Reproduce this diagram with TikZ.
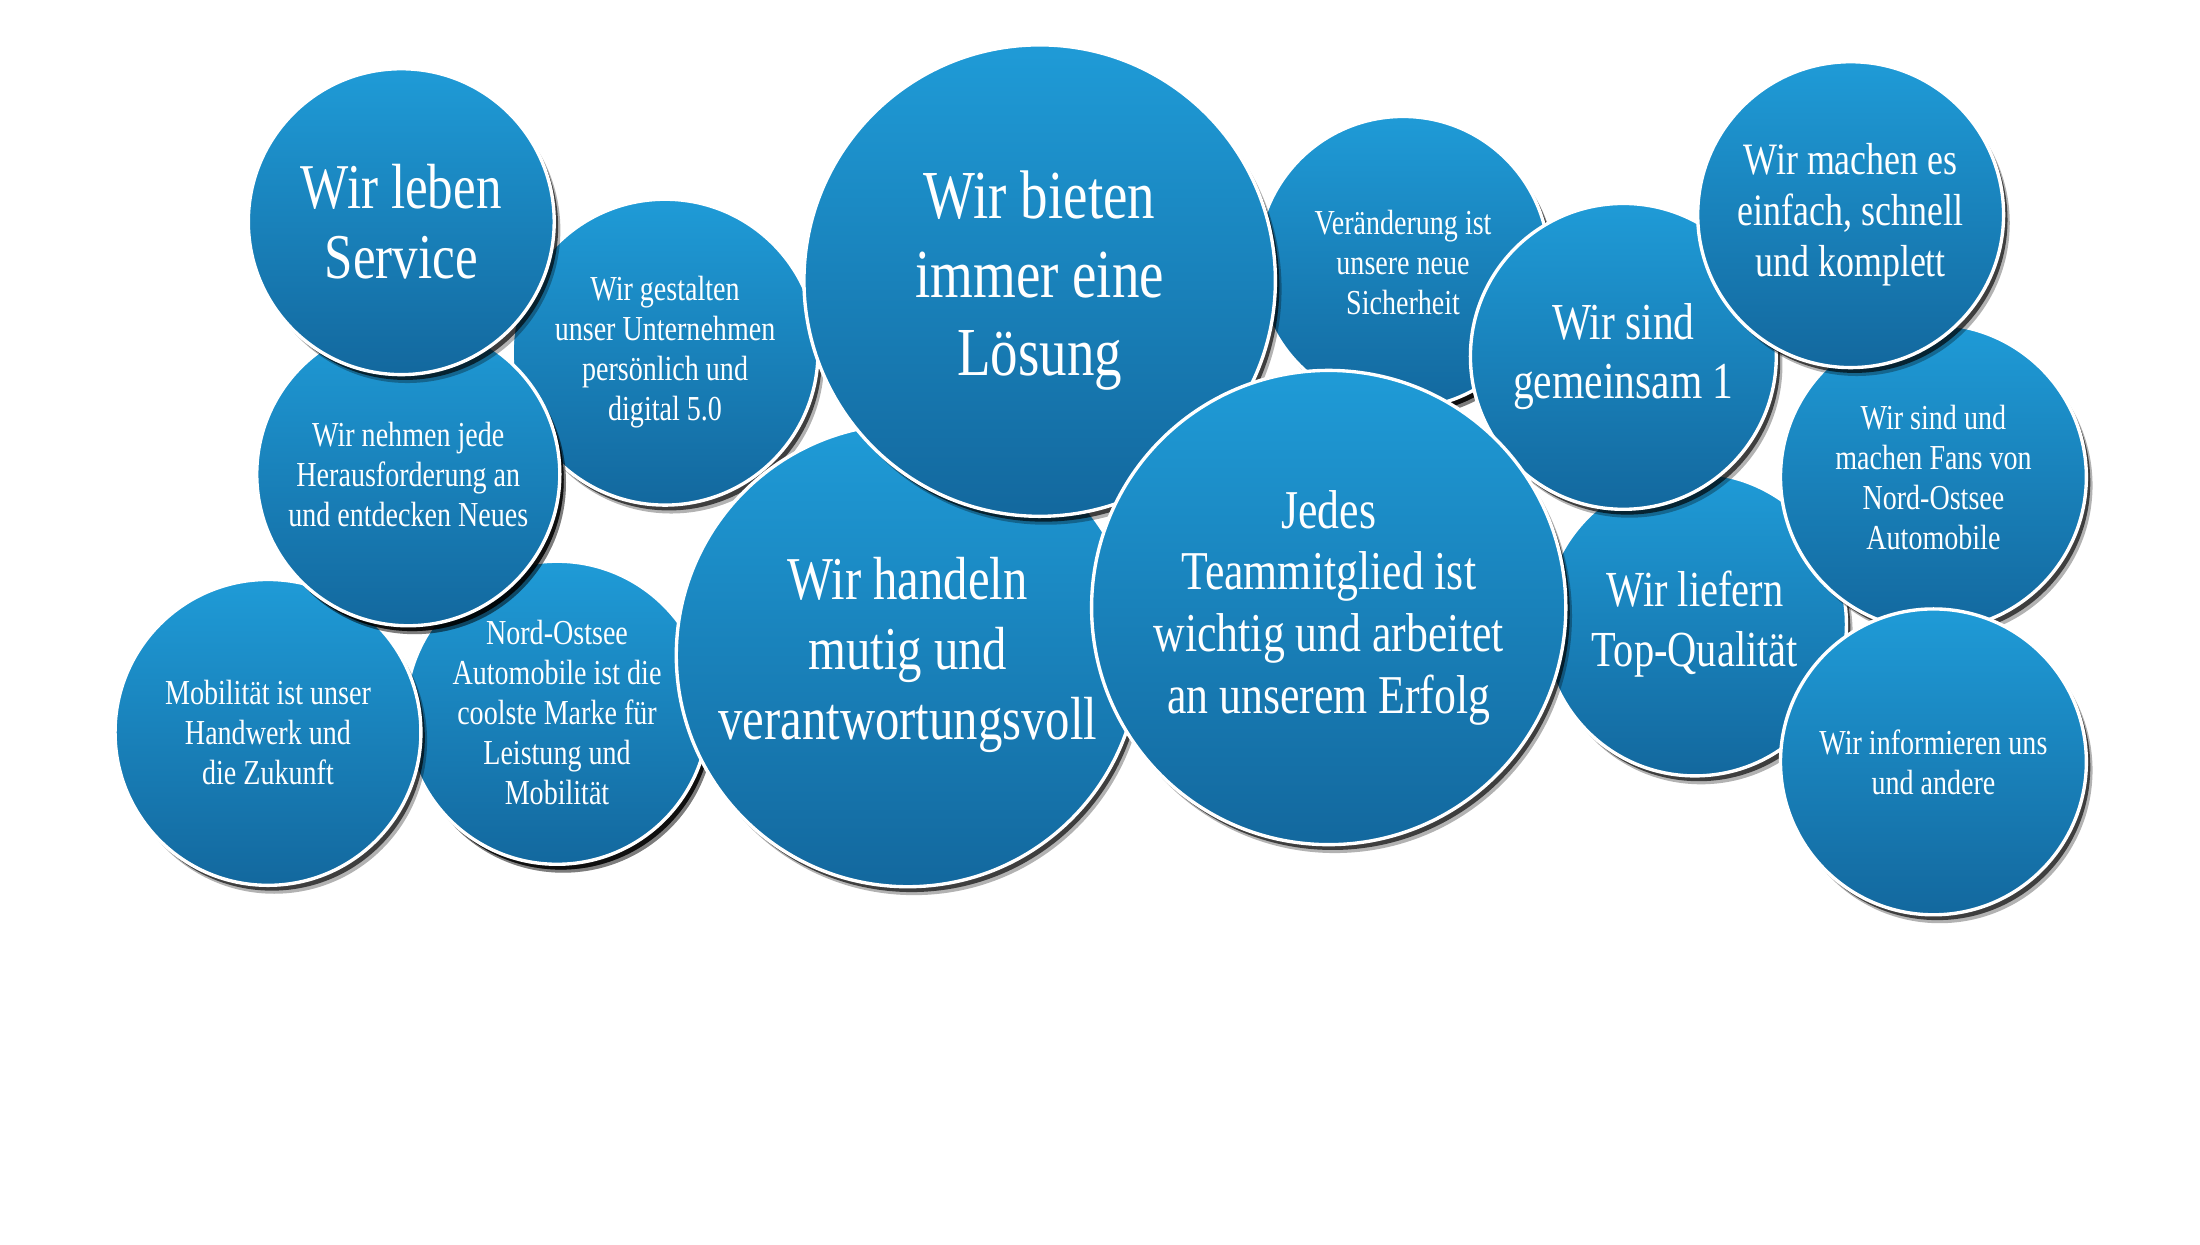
\documentclass[tikz,border=0pt]{standalone}
\usepackage{fontspec}
\setmainfont{Liberation Serif}[FakeStretch=0.8]
\usetikzlibrary{shadows}

\definecolor{bubtop}{RGB}{31,155,215}
\definecolor{bubbot}{RGB}{19,104,158}

\tikzset{
	bubble/.style={circle, inner sep=0pt, align=center, text=white,
		minimum size=#1, top color=bubtop, bottom color=bubbot,
		draw=white, line width=1.2pt,
		drop shadow={shadow xshift=2.2pt, shadow yshift=-3pt, opacity=.3, fill=black},
		drop shadow={shadow xshift=1.4pt, shadow yshift=-1.9pt, opacity=.65, fill=black}},
	smallbub/.style={bubble=109pt, font=\fontsize{12.5}{14.25}\selectfont},
}

\begin{document}
\begin{tikzpicture}[x=0.5pt, y=-0.5pt]
			% page frame, y runs downwards
			\fill[white] (0,0) rectangle (1568,887);
			\useasboundingbox (0,0) rectangle (1568,887);
			
			% back bubbles first
			\node[smallbub] (gestalten) at (474,251) {Wir gestalten\\unser Unternehmen\\persönlich und\\digital 5.0};
			\node[smallbub, bubble=108pt] (nordost) at (397,508) {Nord-Ostsee\\Automobile ist die\\coolste Marke für\\Leistung und\\Mobilität};
			\node[smallbub] (mobil) at (191,522) {Mobilität ist unser\\Handwerk und\\die Zukunft};
			\node[smallbub, bubble=108pt] (nehmen) at (291,338) {Wir nehmen jede\\Herausforderung an\\und entdecken Neues};
			\node[bubble=109pt, font=\fontsize{22.75}{25.25}\selectfont] (service) at (286,158) {Wir leben\\Service};
			
			% middle row
			\node[bubble=165pt, font=\fontsize{21.7}{25}\selectfont] (handeln) at (647,467) {Wir handeln\\mutig und\\verantwortungsvoll};
			\node[smallbub, bubble=104pt] (veraend) at (1000,187) {Veränderung ist\\unsere neue\\Sicherheit};
			\node[bubble=168pt, font=\fontsize{24.5}{28}\selectfont] (loesung) at (741,200) {Wir bieten\\immer eine\\Lösung};
			\node[bubble=108pt, font=\fontsize{18}{21.5}\selectfont] (liefern) at (1208,445) {Wir liefern\\Top-Qualität};
			\node[bubble=109pt, font=\fontsize{18.5}{21}\selectfont] (gemeinsam) at (1157,254) {Wir sind\\gemeinsam 1};
			\node[bubble=169pt, font=\fontsize{19.5}{22}\selectfont] (jedes) at (947,433) {Jedes\\Teammitglied ist\\wichtig und arbeitet\\an unserem Erfolg};
			
			% right column
			\node[smallbub] (fans) at (1378,340) {Wir sind und\\machen Fans von\\Nord-Ostsee\\Automobile};
			\node[bubble=109pt, font=\fontsize{16}{18.25}\selectfont] (machen) at (1319,153) {Wir machen es\\einfach, schnell\\und komplett};
			\node[smallbub] (inform) at (1378,543) {Wir informieren uns\\und andere};
			
\end{tikzpicture}
\end{document}
